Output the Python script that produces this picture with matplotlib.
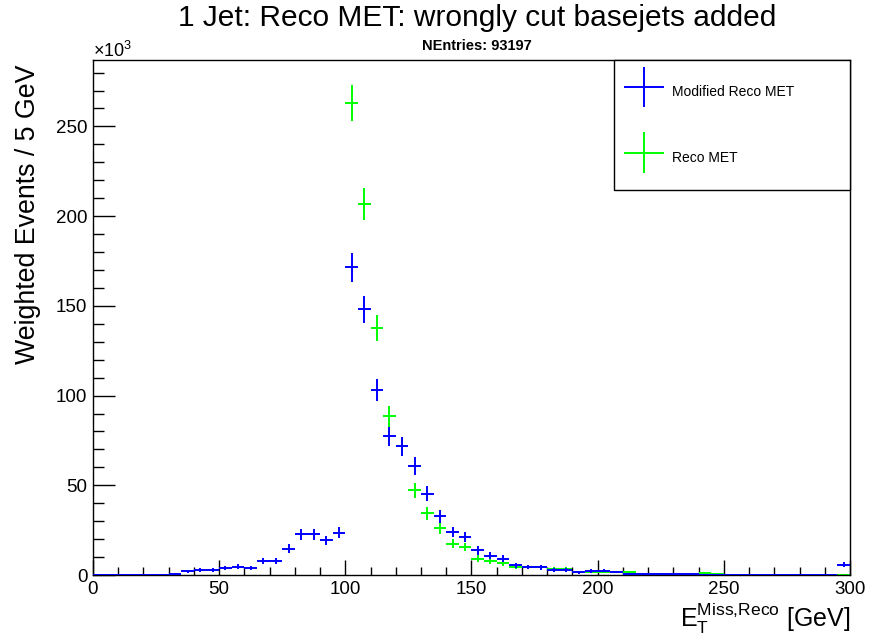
import numpy as np
import matplotlib
matplotlib.use("Agg")
import matplotlib.pyplot as plt
from matplotlib.container import ErrorbarContainer
from matplotlib.legend_handler import HandlerErrorbar

plt.rcParams['font.family'] = ['Liberation Sans', 'DejaVu Sans']
plt.rcParams['mathtext.fontset'] = 'custom'
plt.rcParams['mathtext.rm'] = 'Liberation Sans'
plt.rcParams['mathtext.default'] = 'regular'

# ===============================
# Data (5 GeV bins from 0 to 300, counts in thousands)
# ===============================
bin_width = 5.0
bin_centers = np.arange(2.5, 300, bin_width)

modified_met = [
    0, 0, 0, 0, 0, 0, 0.3, 2.1, 2.9, 2.9,
    3.8, 4.7, 3.8, 7.7, 7.7, 14.6, 22.6, 22.6, 19.3, 23.6,
    171.5, 148, 103, 77.2, 71.8, 60.7, 45.3, 32.7, 23.9, 21.1,
    13.7, 10.7, 9.0, 5.4, 4.5, 4.2, 3.0, 3.0, 1.5, 2.2,
    2.4, 1.7, 0.6, 0.3, 0.3, 0.3, 0.3, 0.3, 0.2, 0.2,
    0, 0, 0, 0, 0, 0, 0, 0, 0, 5.8,
]
modified_err = [
    0, 0, 0, 0, 0, 0, 0.3, 0.9, 1.1, 1.1,
    1.2, 1.3, 1.2, 1.7, 1.7, 2.4, 2.9, 2.9, 2.7, 3.0,
    8.1, 7.5, 6.3, 5.4, 5.3, 4.8, 4.2, 3.5, 3.0, 2.8,
    2.3, 2.0, 1.9, 1.4, 1.3, 1.3, 1.1, 1.1, 0.8, 0.9,
    1.0, 0.8, 0.5, 0.3, 0.3, 0.3, 0.3, 0.3, 0.3, 0.3,
    0, 0, 0, 0, 0, 0, 0, 0, 0, 1.5,
]

nan = np.nan
reco_met = [
    nan, nan, nan, nan, nan, nan, nan, nan, nan, nan,
    nan, nan, nan, nan, nan, nan, nan, nan, nan, nan,
    263, 207, 137.5, 88.5, 71.8, 47.1, 34.5, 26.3, 17.4, 15.6,
    9.0, 7.8, 6.5, 4.5, 4.5, 4.2, 3.2, 3.2, 1.7, 1.7,
    1.7, 1.7, 1.7, 0.3, 0.3, 0.3, 0.3, 0.3, 1.0, 0.3,
    0, 0, 0, 0, 0, 0, 0, 0, 0, 0,
]
reco_err = [
    0, 0, 0, 0, 0, 0, 0, 0, 0, 0,
    0, 0, 0, 0, 0, 0, 0, 0, 0, 0,
    10.1, 8.9, 7.3, 5.8, 5.3, 4.3, 3.6, 3.2, 2.6, 2.4,
    1.9, 1.7, 1.6, 1.3, 1.3, 1.3, 1.1, 1.1, 0.8, 0.8,
    0.8, 0.8, 0.8, 0.3, 0.3, 0.3, 0.3, 0.3, 0.6, 0.3,
    0, 0, 0, 0, 0, 0, 0, 0, 0, 0,
]

n_entries = 93197

# ===============================
# Plot
# ===============================
fig = plt.figure(figsize=(8.7, 6.42), dpi=100)
ax = fig.add_axes([93 / 870, 1 - 575 / 642, 757 / 870, 515 / 642])

eb_reco = ax.errorbar(bin_centers, reco_met, xerr=bin_width / 2, yerr=reco_err,
                      fmt='none', ecolor='#00ff00', elinewidth=1.4, zorder=2)
eb_mod = ax.errorbar(bin_centers, modified_met, xerr=bin_width / 2, yerr=modified_err,
                     fmt='none', ecolor='#0000ff', elinewidth=1.4, zorder=3)

ax.set_xlim(0, 300)
ax.set_ylim(0, 287)
ax.set_xticks(np.arange(0, 301, 50))
ax.set_xticks(np.arange(0, 301, 10), minor=True)
ax.set_yticks(np.arange(0, 251, 50))
ax.set_yticks(np.arange(0, 281, 10), minor=True)
ax.tick_params(axis='x', which='major', direction='in', length=11, width=1, labelsize=13.5, pad=4)
ax.tick_params(axis='x', which='minor', direction='in', length=5.6, width=1)
ax.tick_params(axis='y', which='major', direction='in', length=16, width=1, labelsize=13.5, pad=4)
ax.tick_params(axis='y', which='minor', direction='in', length=8, width=1)
for s in ax.spines.values():
    s.set_linewidth(1)

leg_x0 = (614 - 93) / 757
leg = ax.legend([eb_mod, eb_reco], ["Modified Reco MET", "Reco MET"],
                handler_map={ErrorbarContainer: HandlerErrorbar(xerr_size=1.45, yerr_size=1.45)},
                loc='upper left', bbox_to_anchor=(leg_x0, 0.0, 1.0 - leg_x0, 1.0),
                mode='expand', borderaxespad=0,
                fontsize=10, handlelength=1.8, handleheight=2.9, handletextpad=1.15,
                labelspacing=2.6, borderpad=1.25, fancybox=False, framealpha=1,
                edgecolor='black')
leg.get_frame().set_linewidth(1)

fig.text(477 / 870, 1 - 18 / 642, "1 Jet: Reco MET: wrongly cut basejets added",
         ha='center', va='center', fontsize=21.5)
fig.text(477 / 870, 1 - 46 / 642, f"NEntries: {n_entries}",
         ha='center', va='center', fontsize=10.5, fontweight='bold')
fig.text(93 / 870, 1 - 57 / 642, r"×10$^{3}$", ha='left', va='baseline', fontsize=13)
fig.text(28 / 870, 1 - 64 / 642, "Weighted Events / 5 GeV", rotation=90,
         ha='center', va='top', fontsize=19.3)
fig.text(850 / 870, 1 - 627 / 642, r"$E_{T}^{Miss{,}Reco}$ [GeV]",
         ha='right', va='baseline', fontsize=18)

fig.savefig("out.png", dpi=100)
